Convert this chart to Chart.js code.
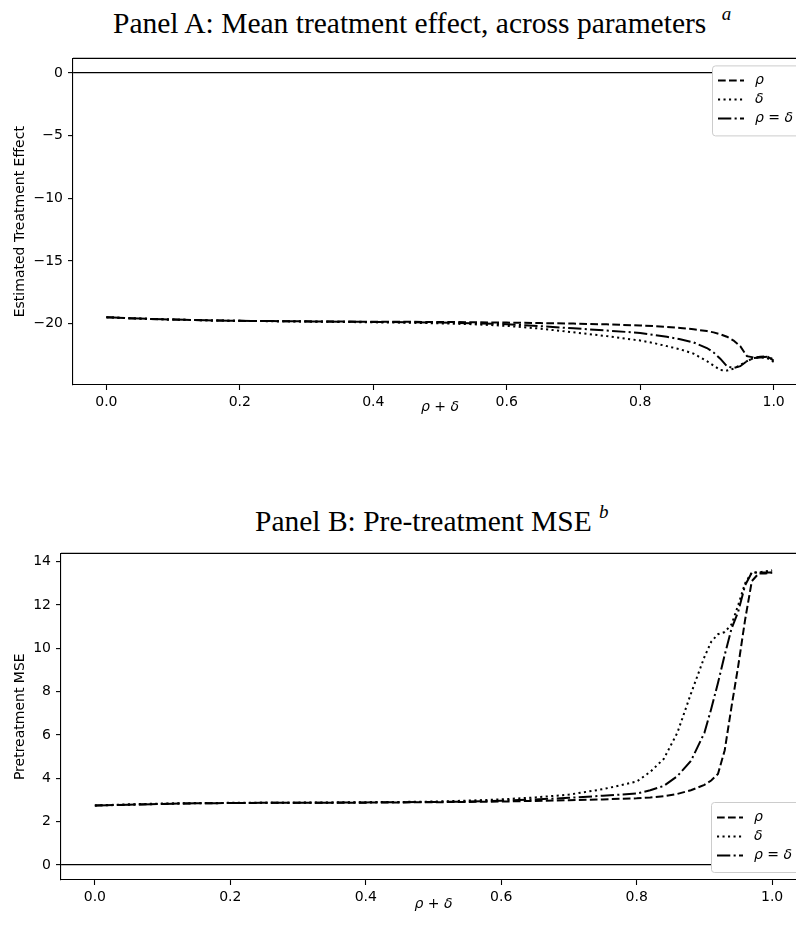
<!DOCTYPE html>
<html>
<head>
<meta charset="utf-8">
<script src="https://cdn.jsdelivr.net/npm/chart.js@4"></script>
<style>
  html, body { margin: 0; padding: 0; background: #fff; }
  body { width: 796px; height: 926px; overflow: hidden; position: relative; }
  .title {
    position: absolute; white-space: nowrap;
    font-family: "Liberation Serif", "DejaVu Serif", serif;
    font-size: 29.5px; line-height: 29px; color: #000;
  }
  .title sup {
    font-size: 19px; font-style: italic; line-height: 0;
    vertical-align: baseline; position: relative; top: -13px;
  }
  canvas { position: absolute; left: 0; }
</style>
</head>
<body>
<div class="title" style="left:113px; top:9px;">Panel A: Mean treatment effect, across parameters <sup style="margin-left:8px;">a</sup></div>
<div class="title" style="left:255px; top:507px;">Panel B: Pre-treatment MSE <sup>b</sup></div>
<canvas id="effectChart" width="830" height="380" style="top:45px;"></canvas>
<canvas id="mseChart" width="830" height="386" style="top:540px;"></canvas>
<script>
// x values (rho + delta) shared by every series
const xVals = [0, 0.05, 0.1, 0.15, 0.2, 0.25, 0.3, 0.35, 0.4, 0.45, 0.5, 0.55, 0.6, 0.65, 0.7, 0.75,
  0.8, 0.82, 0.84, 0.86, 0.88, 0.9, 0.91, 0.92, 0.93, 0.94, 0.95, 0.96, 0.97, 0.98, 0.99, 1.0];
const xTicks = [0, 0.2, 0.4, 0.6, 0.8, 1.0];
const seriesLabels = ['ρ', 'δ', 'ρ = δ'];

// Panel A: estimated treatment effect
const effectRho = [-19.5, -19.6, -19.68, -19.74, -19.78, -19.8, -19.82, -19.84, -19.85, -19.86, -19.87, -19.89, -19.92, -19.96, -20.0, -20.06,
  -20.15, -20.2, -20.27, -20.35, -20.45, -20.6, -20.7, -20.85, -21.05, -21.35, -21.8, -22.6, -22.7, -22.65, -22.6, -22.95];
const effectDelta = [-19.5, -19.6, -19.68, -19.74, -19.78, -19.81, -19.84, -19.87, -19.9, -19.93, -19.98, -20.05, -20.18, -20.4, -20.7, -21.0,
  -21.35, -21.55, -21.8, -22.05, -22.4, -23.0, -23.35, -23.7, -23.75, -23.6, -23.3, -23.0, -22.75, -22.7, -22.75, -23.05];
const effectBoth = [-19.5, -19.6, -19.68, -19.74, -19.78, -19.8, -19.83, -19.85, -19.87, -19.89, -19.92, -19.97, -20.05, -20.2, -20.38, -20.55,
  -20.75, -20.9, -21.05, -21.25, -21.5, -21.95, -22.3, -22.8, -23.4, -23.55, -23.4, -23.0, -22.75, -22.7, -22.65, -22.85];
const effectTicks = [-20, -15, -10, -5, 0];

// Panel B: pretreatment MSE
const mseRho = [2.75, 2.78, 2.82, 2.85, 2.86, 2.87, 2.87, 2.88, 2.88, 2.89, 2.9, 2.91, 2.93, 2.96, 2.99, 3.03,
  3.08, 3.12, 3.18, 3.28, 3.45, 3.7, 3.9, 4.2, 5.3, 7.3, 9.2, 11.3, 13.1, 13.45, 13.45, 13.5];
const mseDelta = [2.75, 2.8, 2.84, 2.86, 2.87, 2.88, 2.88, 2.89, 2.9, 2.91, 2.93, 2.97, 3.03, 3.12, 3.25, 3.5,
  3.85, 4.3, 4.9, 6.1, 7.9, 9.6, 10.3, 10.65, 10.75, 11.1, 12.0, 13.0, 13.5, 13.5, 13.55, 13.6];
const mseBoth = [2.75, 2.78, 2.82, 2.85, 2.86, 2.87, 2.87, 2.88, 2.89, 2.9, 2.91, 2.93, 2.97, 3.03, 3.1, 3.2,
  3.3, 3.45, 3.65, 4.1, 4.8, 6.1, 7.2, 8.4, 9.7, 10.9, 11.7, 12.9, 13.5, 13.5, 13.5, 13.5];
const mseTicks = [0, 2, 4, 6, 8, 10, 12, 14];

const dashes = [[7.7, 3.3], [2.1, 3.4], [13.3, 3.3, 2.1, 3.3]];
const SANS = '"DejaVu Sans", sans-serif';

// frame on top/right + matplotlib style legend box
const framePlugin = {
  id: 'frame',
  afterDraw(chart, args, opts) {
    const ctx = chart.ctx;
    const ca = chart.chartArea;
    ctx.save();
    ctx.strokeStyle = '#000';
    ctx.lineWidth = 1.1;
    ctx.beginPath();
    ctx.moveTo(ca.left, ca.top);
    ctx.lineTo(ca.right, ca.top);
    ctx.lineTo(ca.right, ca.bottom);
    ctx.stroke();

    // legend
    const w = 88, h = 70, rowH = 19;
    const x0 = ca.right - 7 - w;
    const y0 = opts.anchor === 'top' ? ca.top + 7 : ca.bottom - 8 - h;
    ctx.fillStyle = '#fff';
    ctx.strokeStyle = '#cccccc';
    ctx.lineWidth = 1;
    ctx.beginPath();
    ctx.roundRect(x0 + 0.5, y0 + 0.5, w, h, 3);
    ctx.fill();
    ctx.stroke();
    ctx.font = 'italic 14px ' + SANS;
    ctx.textBaseline = 'middle';
    chart.data.datasets.forEach((ds, i) => {
      const yy = Math.round(y0 + 15 + i * rowH) + 0.5;
      ctx.strokeStyle = '#000';
      ctx.lineWidth = 2;
      ctx.setLineDash(ds.borderDash);
      ctx.beginPath();
      ctx.moveTo(x0 + 6, yy);
      ctx.lineTo(x0 + 32, yy);
      ctx.stroke();
      ctx.setLineDash([]);
      ctx.fillStyle = '#000';
      ctx.fillText(ds.label, x0 + 43, yy);
    });
    ctx.restore();
  }
};

function buildChart(id, series, yTicks, yMin, yMax, yTitle, yWidth, xHeight, xTitlePad, rightPad, legendAnchor) {
  const ctx = document.getElementById(id).getContext('2d');
  return new Chart(ctx, {
    type: 'line',
    data: {
      datasets: series.map((vals, i) => ({
        label: seriesLabels[i],
        data: xVals.map((x, j) => ({ x: x, y: vals[j] })),
        borderColor: '#000',
        borderWidth: 2,
        borderDash: dashes[i],
        pointRadius: 0,
        fill: false,
        tension: 0
      }))
    },
    options: {
      responsive: false,
      animation: false,
      layout: { padding: { left: 0, right: rightPad, top: 12, bottom: 0 } },
      plugins: {
        legend: { display: false },
        tooltip: { enabled: false },
        frame: { anchor: legendAnchor }
      },
      scales: {
        x: {
          type: 'linear',
          min: -0.05,
          max: 1.05,
          afterBuildTicks: (scale) => { scale.ticks = xTicks.map(v => ({ value: v })); },
          afterFit: (scale) => { scale.height = xHeight; },
          ticks: {
            color: '#000',
            font: { family: SANS, size: 14 },
            padding: 4,
            maxRotation: 0,
            autoSkip: false,
            callback: (v) => Number(v).toFixed(1)
          },
          grid: { drawOnChartArea: false, tickLength: 5, tickColor: '#000', tickWidth: 1.1 },
          border: { display: true, color: '#000', width: 1.1 },
          title: {
            display: true,
            text: 'ρ + δ',
            color: '#000',
            font: { family: SANS, size: 14, style: 'italic' },
            padding: { top: 0, bottom: xTitlePad }
          }
        },
        y: {
          min: yMin,
          max: yMax,
          afterBuildTicks: (scale) => { scale.ticks = yTicks.map(v => ({ value: v })); },
          afterFit: (scale) => { scale.width = yWidth; },
          ticks: {
            color: '#000',
            font: { family: SANS, size: 14 },
            padding: 5,
            autoSkip: false,
            callback: (v) => (v < 0 ? '\u2212' + Math.abs(v) : String(v))
          },
          grid: {
            color: (c) => (c.tick && c.tick.value === 0 ? '#000' : 'rgba(0,0,0,0)'),
            lineWidth: 1.2,
            tickLength: 5,
            tickColor: '#000',
            tickWidth: 1.1
          },
          border: { display: true, color: '#000', width: 1.1 },
          title: {
            display: true,
            text: yTitle,
            color: '#000',
            font: { family: SANS, size: 14 },
            padding: { top: 12, bottom: 0 }
          }
        }
      }
    },
    plugins: [framePlugin]
  });
}

buildChart('effectChart', [effectRho, effectDelta, effectBoth], effectTicks, -24.9, 1.16,
  'Estimated Treatment Effect', 73, 40, 9, 23, 'top');
buildChart('mseChart', [mseRho, mseDelta, mseBoth], mseTicks, -0.69, 14.38,
  'Pretreatment MSE', 61, 46, 13, 24, 'bottom');
</script>
</body>
</html>
